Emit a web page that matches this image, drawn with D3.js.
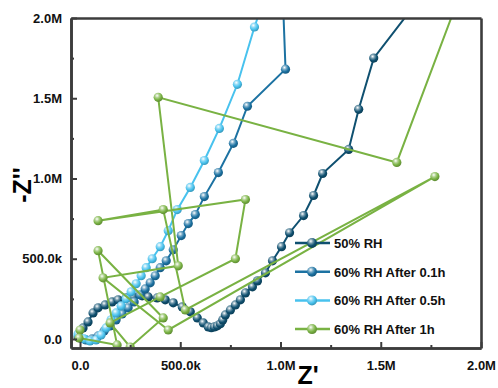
<!DOCTYPE html>
<html><head><meta charset="utf-8">
<script src="https://cdn.jsdelivr.net/npm/d3@7"></script>
<style>body{margin:0;background:#fff;}svg{display:block;}</style>
</head><body>
<svg id="c" width="498" height="388" font-family="Liberation Sans, Arial, sans-serif" font-weight="bold"></svg>
<script>
const seriesNames = ["50% RH","60% RH After 0.1h","60% RH After 0.5h","60% RH After 1h"];
const seriesColors = ["#0f5070","#1c72a2","#48c2ee","#79b243"];
const rh50X = [-10e3,15e3,40e3,65e3,90e3,125e3,160e3,190e3,230e3,265e3,310e3,340e3,385e3,425e3,465e3,510e3,550e3,585e3,615e3,640e3,655e3,670e3,685e3,700e3,712e3,725e3,750e3,775e3,800e3,825e3,860e3,885e3,925e3,960e3,1005e3,1045e3,1115e3,1165e3,1210e3,1340e3,1390e3,1465e3,1650e3];
const rh50Y = [12e3,69e3,106e3,162e3,194e3,212e3,231e3,244e3,256e3,262e3,269e3,262e3,256e3,244e3,225e3,200e3,169e3,131e3,100e3,75e3,70e3,75e3,82e3,95e3,119e3,150e3,181e3,212e3,244e3,287e3,325e3,362e3,412e3,487e3,575e3,662e3,769e3,894e3,1031e3,1181e3,1431e3,1750e3,2050e3];
const h01X = [0,30e3,60e3,90e3,120e3,150e3,180e3,210e3,240e3,270e3,300e3,325e3,350e3,375e3,400e3,430e3,465e3,505e3,540e3,575e3,620e3,690e3,765e3,835e3,1025e3,1010e3];
const h01Y = [6e3,-6e3,0,19e3,50e3,81e3,119e3,156e3,194e3,231e3,275e3,312e3,350e3,394e3,444e3,487e3,556e3,644e3,719e3,775e3,887e3,1037e3,1219e3,1450e3,1681e3,2181e3];
const h05X = [-10e3,20e3,50e3,80e3,105e3,130e3,155e3,180e3,205e3,230e3,255e3,280e3,305e3,330e3,360e3,400e3,440e3,485e3,550e3,620e3,695e3,785e3,870e3,910e3];
const h05Y = [31e3,0,-12e3,-6e3,25e3,69e3,119e3,162e3,206e3,250e3,294e3,344e3,394e3,444e3,500e3,575e3,675e3,806e3,944e3,1112e3,1312e3,1587e3,1944e3,2087e3];
const h1X = [0,-5e3,185e3,90e3,415e3,250e3,150e3,400e3,775e3,825e3,90e3,415e3,525e3,1770e3,440e3,115e3,490e3,390e3,1580e3,2000e3];
const h1Y = [56e3,6e3,-37e3,550e3,131e3,-50e3,100e3,262e3,500e3,869e3,737e3,806e3,181e3,1012e3,56e3,381e3,456e3,1506e3,1100e3,2494e3];
const xTickVals = [0,500e3,1000e3,1500e3,2000e3];
const xTickLabels = ["0.0","500.0k","1.0M","1.5M","2.0M"];
const yTickVals = [0,500e3,1000e3,1500e3,2000e3];
const yTickLabels = ["0.0","500.0k","1.0M","1.5M","2.0M"];
const minorTickVals = [250e3,750e3,1250e3,1750e3];

const svg = d3.select("#c");
const L=71,R=481,T=18,B=348;
const x = d3.scaleLinear().domain([-45000,2000000]).range([L,R]);
const y = d3.scaleLinear().domain([-56250,2000000]).range([B,T]);
const axisCol = "#3c3c3c";

const defs = svg.append("defs");
defs.append("clipPath").attr("id","clipP").append("rect").attr("x",L+1).attr("y",T+1).attr("width",R-L-2).attr("height",B-T-2);
seriesColors.forEach((c,i)=>{
  const g = defs.append("radialGradient").attr("id","g"+i).attr("cx","38%").attr("cy","32%").attr("r","65%");
  g.append("stop").attr("offset","0%").attr("stop-color","#ffffff");
  g.append("stop").attr("offset","35%").attr("stop-color",d3.interpolateRgb("#ffffff",c)(0.6));
  g.append("stop").attr("offset","70%").attr("stop-color",c);
  g.append("stop").attr("offset","100%").attr("stop-color",d3.color(c).darker(0.6).formatHex());
});

const series = [[rh50X,rh50Y],[h01X,h01Y],[h05X,h05Y],[h1X,h1Y]].map((s,i)=>({i, pts:s[0].map((v,k)=>[v,s[1][k]])}));
const line = d3.line().x(d=>x(d[0])).y(d=>y(d[1]));
const plot = svg.append("g").attr("clip-path","url(#clipP)");
series.forEach(s=>{
  const g = plot.append("g");
  g.append("path").attr("d",line(s.pts)).attr("fill","none").attr("stroke",seriesColors[s.i]).attr("stroke-width",2);
  g.selectAll("circle").data(s.pts).join("circle").attr("cx",d=>x(d[0])).attr("cy",d=>y(d[1])).attr("r",4.6)
    .attr("fill","url(#g"+s.i+")");
});

const xa = d3.axisBottom(x).tickValues(xTickVals).tickFormat((d,i)=>xTickLabels[i]).tickSizeInner(-6).tickSizeOuter(0).tickPadding(13);
const ya = d3.axisLeft(y).tickValues(yTickVals).tickFormat((d,i)=>yTickLabels[i]).tickSizeInner(-6).tickSizeOuter(0).tickPadding(9);
const xm = d3.axisBottom(x).tickValues(minorTickVals).tickFormat("").tickSizeInner(-3).tickSizeOuter(0);
const ym = d3.axisLeft(y).tickValues(minorTickVals).tickFormat("").tickSizeInner(-3).tickSizeOuter(0);
const gs = [
  svg.append("g").attr("transform",`translate(0,${B})`).call(xa),
  svg.append("g").attr("transform",`translate(${L},0)`).call(ya),
  svg.append("g").attr("transform",`translate(0,${B})`).call(xm),
  svg.append("g").attr("transform",`translate(${L},0)`).call(ym),
  svg.append("g").attr("transform",`translate(0,${T})`).call(d3.axisTop(x).tickValues([]).tickSizeOuter(0)),
  svg.append("g").attr("transform",`translate(${R},0)`).call(d3.axisRight(y).tickValues([]).tickSizeOuter(0))
];
gs.forEach(g=>{
  g.selectAll("text").attr("font-size",13).attr("fill","#111");
  g.selectAll("path").attr("stroke",axisCol).attr("stroke-width",2.6);
  g.selectAll("line").attr("stroke",axisCol).attr("stroke-width",2);
});

svg.append("text").attr("x",308).attr("y",384).attr("text-anchor","middle").attr("font-size",25).text("Z'");
svg.append("text").attr("transform","translate(31,185) rotate(-90)").attr("text-anchor","middle").attr("font-size",25).text("-Z''");

const lg = svg.append("g");
seriesNames.forEach((n,i)=>{
  const yy = 243 + i*28.7;
  lg.append("line").attr("x1",295).attr("x2",330).attr("y1",yy).attr("y2",yy).attr("stroke",seriesColors[i]).attr("stroke-width",2.5);
  lg.append("circle").attr("cx",312).attr("cy",yy).attr("r",5).attr("fill","url(#g"+i+")");
  lg.append("text").attr("x",334).attr("y",yy+5).attr("font-size",13).attr("fill","#111").text(n);
});
</script>
</body></html>
